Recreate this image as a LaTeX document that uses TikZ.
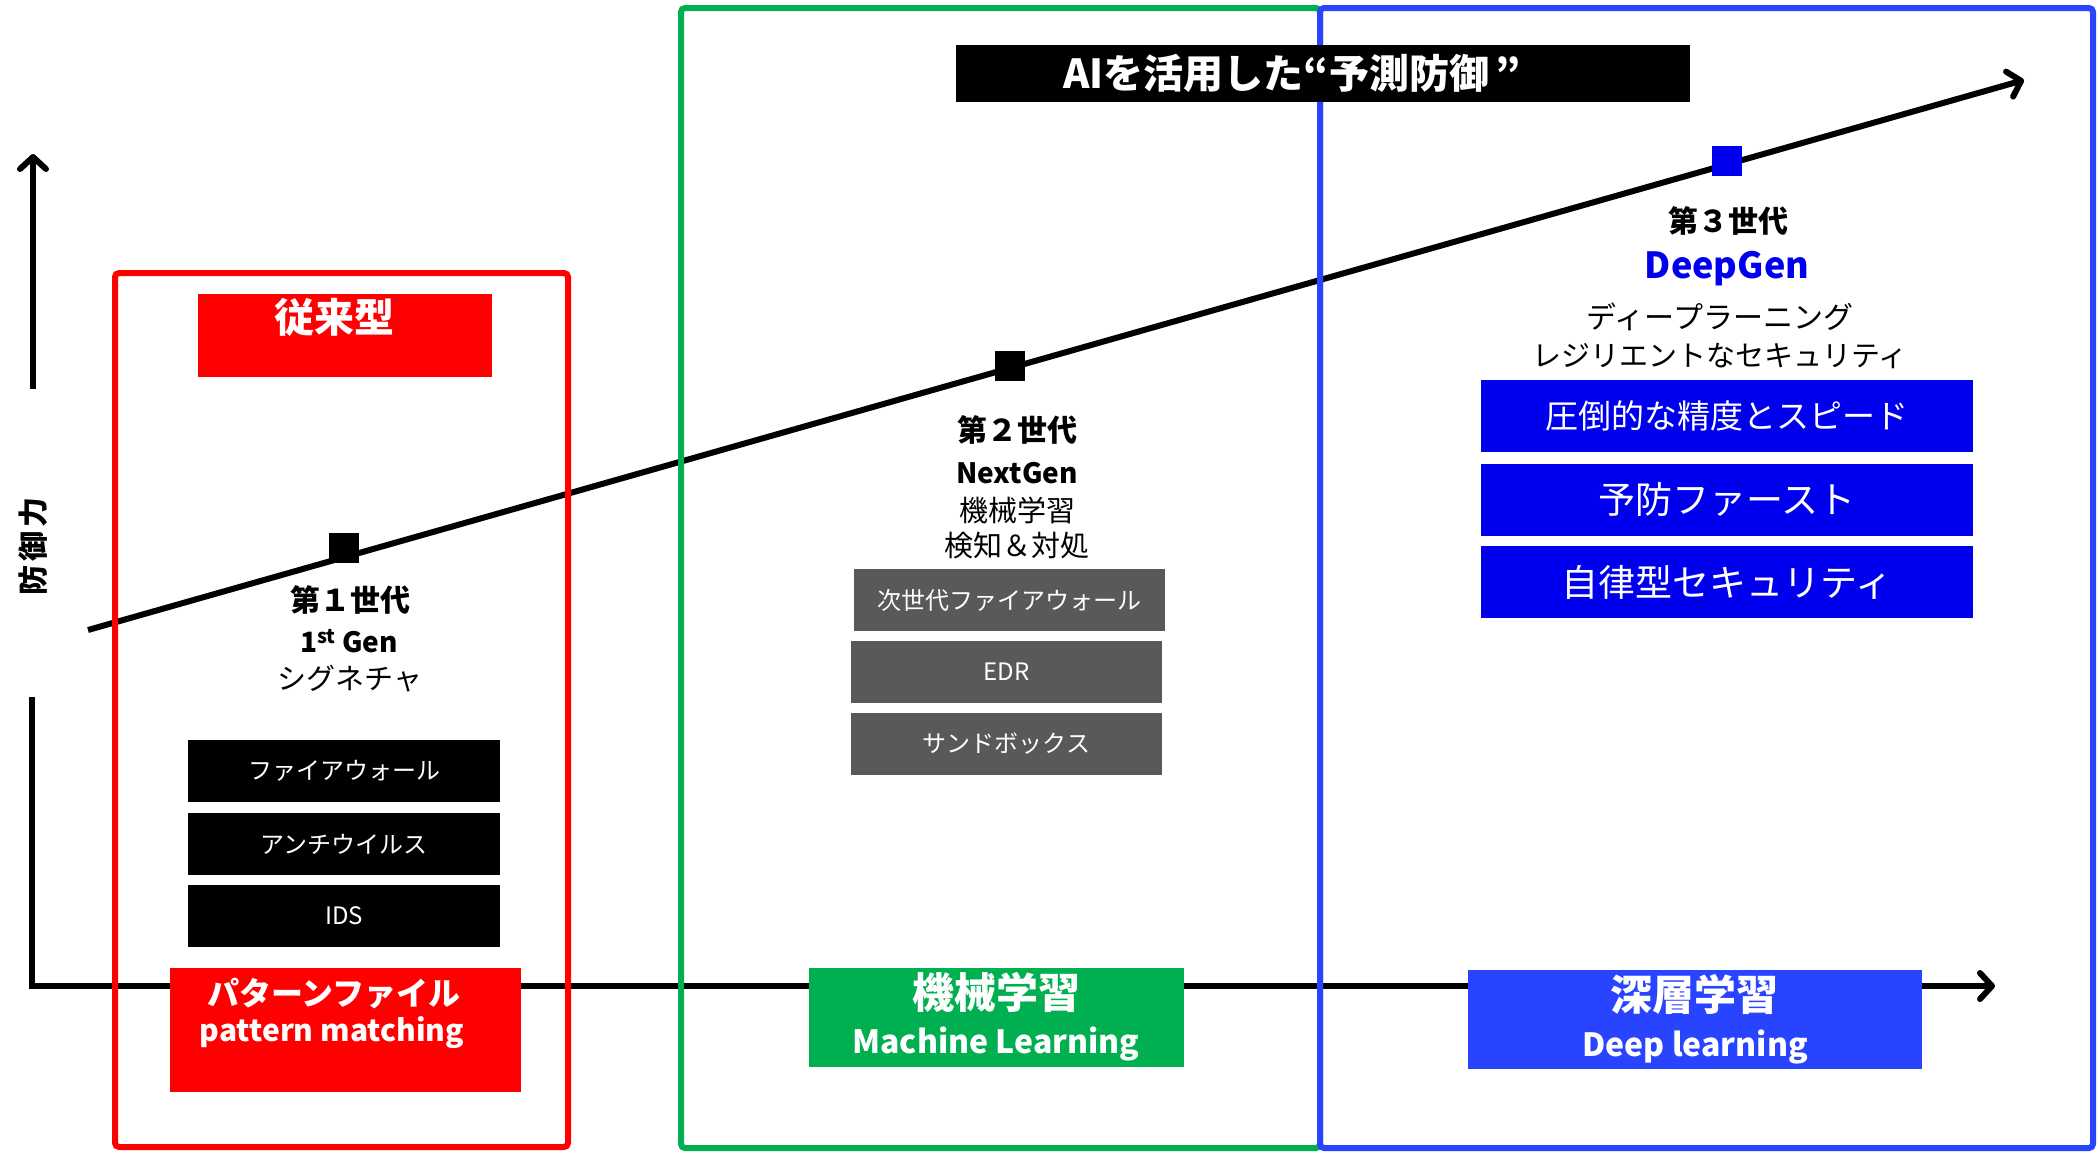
\documentclass[tikz,border=0pt]{standalone}
\usepackage{fontspec}
\setmainfont{Noto Sans CJK JP}
\usetikzlibrary{arrows.meta}
\definecolor{cred}{HTML}{FF0000}
\definecolor{cgreen}{HTML}{00B050}
\definecolor{cblue}{HTML}{2944FF}
\definecolor{cdeep}{HTML}{0000EE}
\definecolor{cgray}{HTML}{595959}
\newcommand{\myfs}[1]{\fontsize{#1}{#1}\selectfont}
\tikzset{
  ln/.style={line width=6pt},
  tipbarb/.style={-{Straight Barb[length=12pt,width=26pt,round]}},
  frame/.style={draw, line width=6pt, rounded corners=4pt},
  txt/.style={inner sep=0pt, anchor=center},
  blkbox/.style={fill=black, text=white, inner sep=0pt, minimum width=312pt, minimum height=62pt, font=\myfs{24}},
  graybox/.style={fill=cgray, text=white, inner sep=0pt, minimum width=311pt, minimum height=62pt, font=\myfs{24}},
  bluebox/.style={fill=cdeep, text=white, inner sep=0pt, minimum width=492pt, minimum height=72pt},
  marker/.style={inner sep=0pt, minimum width=30pt, minimum height=30pt},
}
\begin{document}
\begin{tikzpicture}[x=1pt,y=-1pt]
\useasboundingbox (0,0) rectangle (2097,1152);
\fill[white] (0,0) rectangle (2097,1152);

% axes
\coordinate (yup0) at (33,389);
\coordinate (yup1) at (33,154);
\coordinate (ylow) at (32,697);
\coordinate (origin) at (32,986);
\coordinate (xend) at (1995,986);
\draw[ln, tipbarb] (yup0) -- (yup1);
\draw[ln, tipbarb] (ylow) -- (origin) -- (xend);
\node[txt, rotate=90, font=\bfseries\myfs{30}] (ylabel) at (33,546) {防\hspace{4pt}御\hspace{4pt}力};

% diagonal
\coordinate (d0) at (88,630);
\coordinate (d1) at (2024,80);
\draw[ln, tipbarb] (d0) -- (d1);

% markers
\node[marker, fill=black] (m1) at (344,548) {};
\node[marker, fill=black] (m2) at (1010,366) {};
\node[marker, fill=cdeep] (m3) at (1727,161) {};

% ---- generation 1
\node[fill=cred, inner sep=0pt, minimum width=294pt, minimum height=83pt] (convbox) at (345,335.5) {};
\node[txt, text=white, font=\bfseries\myfs{40}] (conv) at (334,317) {従来型};

\node[txt, font=\bfseries\myfs{30}] (g1a) at (350,600) {第１世代};
\node[txt, font=\bfseries\myfs{28}] (g1b) at (349,641) {1\textsuperscript{st} Gen};
\node[txt, font=\myfs{29}] (g1c) at (350,679) {シグネチャ};

\node[blkbox] (fw) at (344,771) {ファイアウォール};
\node[blkbox] (av) at (344,844) {アンチウイルス};
\node[blkbox] (ids) at (344,916) {IDS};

\node[fill=cred, inner sep=0pt, minimum width=351pt, minimum height=124pt] (pfbox) at (345.5,1030) {};
\node[txt, text=white, font=\bfseries\myfs{32}] (pf1) at (334,994) {パターンファイル};
\node[txt, text=white, font=\bfseries\myfs{30}] (pf2) at (332,1033) {pattern matching};

% ---- generation 2
\node[txt, font=\bfseries\myfs{30}] (g2a) at (1017,430) {第２世代};
\node[txt, font=\bfseries\myfs{28}] (g2b) at (1017,473) {NextGen};
\node[txt, font=\myfs{29}] (g2c) at (1017,510) {機械学習};
\node[txt, font=\myfs{29}] (g2d) at (1017,546) {検知＆対処};

\node[graybox] (ngfw) at (1009,600) {次世代ファイアウォール};
\node[graybox] (edr) at (1006.5,672) {EDR};
\node[graybox] (sb) at (1006.5,744) {サンドボックス};

\node[fill=cgreen, inner sep=0pt, minimum width=375pt, minimum height=99pt] (mlbox) at (996.5,1017.5) {};
\node[txt, text=white, font=\bfseries\myfs{42}] (ml1) at (996,992) {機械学習};
\node[txt, text=white, font=\bfseries\myfs{32}] (ml2) at (996,1044) {Machine Learning};

% ---- generation 3
\node[txt, font=\bfseries\myfs{30}] (g3a) at (1728,221) {第３世代};
\node[txt, text=cdeep, font=\bfseries\myfs{36}] (g3b) at (1727,269) {DeepGen};
\node[txt, font=\myfs{30}] (g3c) at (1720,317) {ディープラーニング};
\node[txt, font=\myfs{29}] (g3d) at (1720,356) {レジリエントなセキュリティ};

\node[bluebox, font=\myfs{33}] (f1) at (1727,416) {圧倒的な精度とスピード};
\node[bluebox, font=\myfs{37}] (f2) at (1727,499.5) {予防ファースト};
\node[bluebox, font=\myfs{37}] (f3) at (1727,582) {自律型セキュリティ};

\node[fill=cblue, inner sep=0pt, minimum width=454pt, minimum height=99pt] (dlbox) at (1695,1019.5) {};
\node[txt, text=white, font=\bfseries\myfs{42}] (dl1) at (1694,994) {深層学習};
\node[txt, text=white, font=\bfseries\myfs{32}] (dl2) at (1695,1047) {Deep learning};

% frames
\draw[frame, cred] (115,273) rectangle (568,1147);
\draw[frame, cgreen] (681,8) rectangle (1320,1148);
\draw[frame, cblue] (1320,8) rectangle (2093,1148);

% title box (over the frames)
\node[fill=black, inner sep=0pt, minimum width=734pt, minimum height=57pt] (titlebox) at (1323,73.5) {};
\node[txt, text=white, font=\bfseries\myfs{40}] (title) at (1292,73) {AIを活用した“予測防御\hspace{6pt}”};
\end{tikzpicture}
\end{document}
